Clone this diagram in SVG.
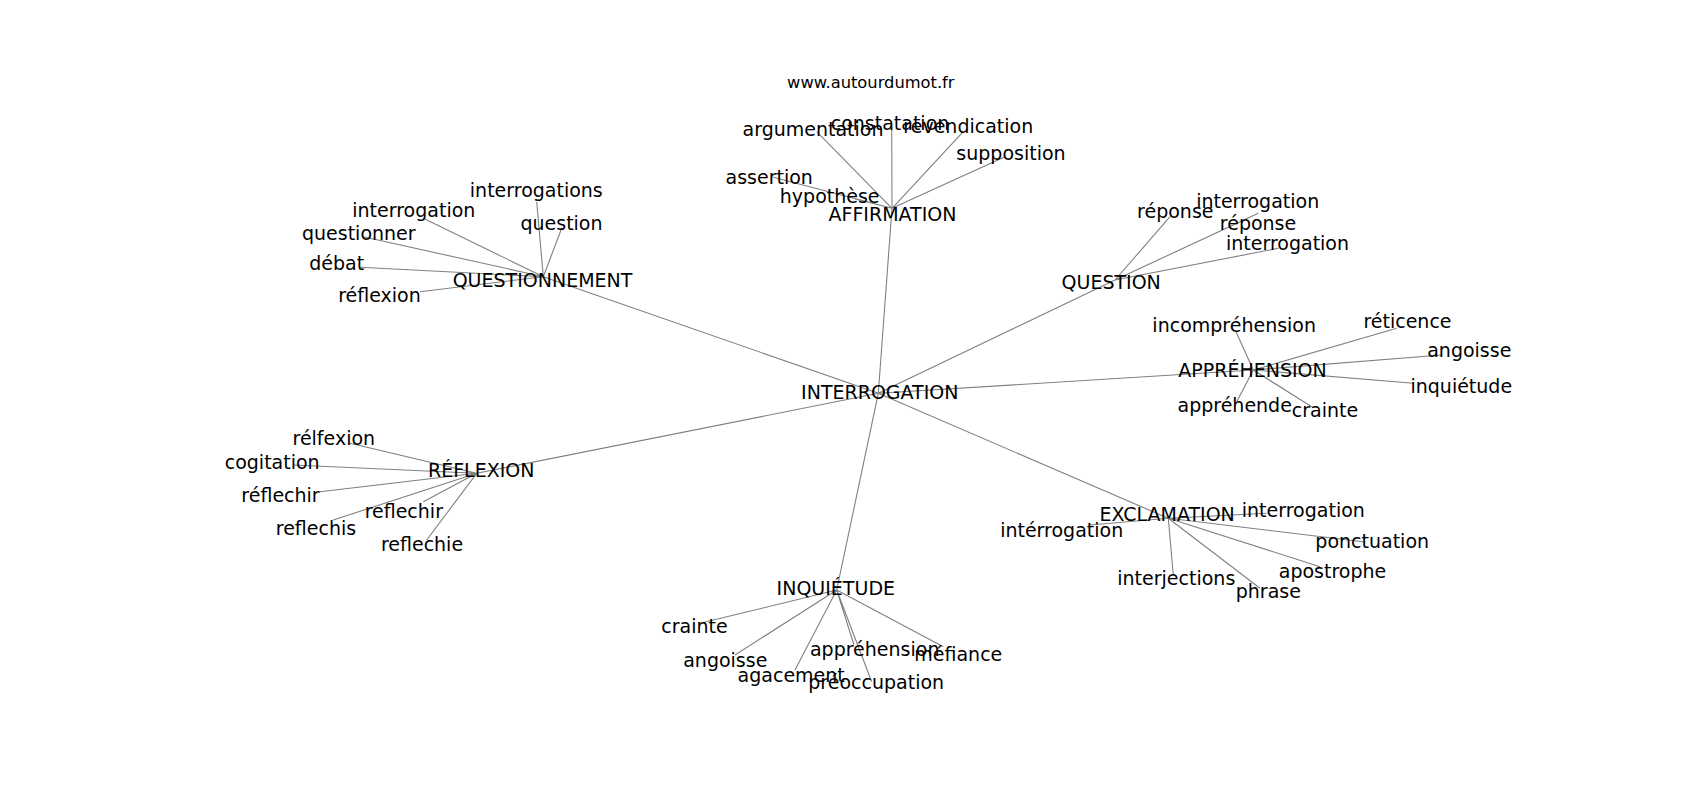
<svg xmlns="http://www.w3.org/2000/svg" width="1700" height="800" viewBox="0 0 1700 800">
<style>
.e{stroke:#808080;stroke-width:1.1;fill:none}
text{font-family:"DejaVu Sans","Liberation Sans",sans-serif;font-size:19px;fill:#000;text-anchor:middle}
.t{font-size:16.3px}
</style>
<rect width="1700" height="800" fill="#fff"/>
<g id="edges">
<path class="e" d="M878.3,393.3L892,208.3M878.3,393.3L543.3,276.7M878.3,393.3L1115,280M878.3,393.3L1253.3,370M878.3,393.3L1168.3,518.3M878.3,393.3L836.7,590M878.3,393.3L476.7,473.3"/>
<path class="e" d="M892,208.3L816.7,131.7M892,208.3L891.7,123.3M892,208.3L963.3,131.7M892,208.3L1005,156.7M892,208.3L773.3,177.3M892,208.3L855,199"/>
<path class="e" d="M543.3,276.7L536.7,201.7M543.3,276.7L561.7,228.3M543.3,276.7L423.3,218.3M543.3,276.7L363.3,236.7M543.3,276.7L360,267.3M543.3,276.7L420,291.7"/>
<path class="e" d="M1115,280L1170,216.7M1115,280L1258.3,213.3M1115,280L1230,226.5M1115,280L1278.3,248.3"/>
<path class="e" d="M1253.3,370L1236,331.7M1253.3,370L1396.7,328.3M1253.3,370L1441.7,355M1253.3,370L1413.3,383.3M1253.3,370L1236.7,401.7M1253.3,370L1311.7,406.7"/>
<path class="e" d="M1168.3,518.3L1266.7,513.3M1168.3,518.3L1090,525M1168.3,518.3L1365,542M1168.3,518.3L1320,566.7M1168.3,518.3L1173.3,575M1168.3,518.3L1260,588.3"/>
<path class="e" d="M476.7,473.3L350,443.3M476.7,473.3L293.3,465M476.7,473.3L320,491.7M476.7,473.3L333.3,520M476.7,473.3L423.3,501.7M476.7,473.3L426.7,540"/>
<path class="e" d="M836.7,590L700,623.3M836.7,590L735,655M836.7,590L795,670M836.7,590L854,645M836.7,590L871.7,681.7M836.7,590L943.3,646.7"/>
</g>
<text class="t" x="870.8" y="88.3">www.autourdumot.fr</text>
<g id="n-interrogation-hub"><text x="879.8" y="399.3">INTERROGATION</text></g>
<g id="n-affirmation"><text x="892.5" y="220.7">AFFIRMATION</text></g>
<g id="n-aff-argumentation"><text x="813" y="136">argumentation</text></g>
<g id="n-aff-constatation"><text x="890" y="130">constatation</text></g>
<g id="n-aff-revendication"><text x="968.3" y="132.7">revendication</text></g>
<g id="n-aff-supposition"><text x="1011" y="160">supposition</text></g>
<g id="n-aff-assertion"><text x="769.2" y="184">assertion</text></g>
<g id="n-aff-hypothese"><text x="829.7" y="202.7">hypothèse</text></g>
<g id="n-questionnement"><text x="542.5" y="286.5">QUESTIONNEMENT</text></g>
<g id="n-qnt-interrogations"><text x="536.3" y="197.3">interrogations</text></g>
<g id="n-qnt-interrogation"><text x="413.8" y="216.7">interrogation</text></g>
<g id="n-qnt-question"><text x="561.5" y="230">question</text></g>
<g id="n-qnt-questionner"><text x="358.8" y="240">questionner</text></g>
<g id="n-qnt-debat"><text x="336.7" y="270">débat</text></g>
<g id="n-qnt-reflexion"><text x="379.5" y="301.7">réflexion</text></g>
<g id="n-question"><text x="1111.2" y="288.5">QUESTION</text></g>
<g id="n-qst-reponse1"><text x="1175.3" y="218.3">réponse</text></g>
<g id="n-qst-interrogation1"><text x="1257.7" y="207.7">interrogation</text></g>
<g id="n-qst-reponse2"><text x="1258" y="230">réponse</text></g>
<g id="n-qst-interrogation2"><text x="1287.5" y="250">interrogation</text></g>
<g id="n-apprehension"><text x="1252.5" y="376.7">APPRÉHENSION</text></g>
<g id="n-app-incomprehension"><text x="1234.2" y="331.7">incompréhension</text></g>
<g id="n-app-reticence"><text x="1407.5" y="328.3">réticence</text></g>
<g id="n-app-angoisse"><text x="1469.3" y="356.7">angoisse</text></g>
<g id="n-app-inquietude"><text x="1461.3" y="393.3">inquiétude</text></g>
<g id="n-app-apprehende"><text x="1234.7" y="411.7">appréhende</text></g>
<g id="n-app-crainte"><text x="1325" y="416.7">crainte</text></g>
<g id="n-exclamation"><text x="1167.2" y="520.7">EXCLAMATION</text></g>
<g id="n-exc-interrogation"><text x="1303.3" y="516.7">interrogation</text></g>
<g id="n-exc-interrogation2"><text x="1061.7" y="536.7">intérrogation</text></g>
<g id="n-exc-ponctuation"><text x="1372.2" y="548.3">ponctuation</text></g>
<g id="n-exc-apostrophe"><text x="1332.5" y="578.3">apostrophe</text></g>
<g id="n-exc-interjections"><text x="1176.3" y="585">interjections</text></g>
<g id="n-exc-phrase"><text x="1268.3" y="598.3">phrase</text></g>
<g id="n-reflexion"><text x="481.2" y="477.3">RÉFLEXION</text></g>
<g id="n-ref-relfexion"><text x="333.8" y="445">rélfexion</text></g>
<g id="n-ref-cogitation"><text x="272.2" y="469.3">cogitation</text></g>
<g id="n-ref-reflechir1"><text x="280.5" y="501.7">réflechir</text></g>
<g id="n-ref-reflechir2"><text x="403.8" y="518.3">reflechir</text></g>
<g id="n-ref-reflechis"><text x="316" y="535">reflechis</text></g>
<g id="n-ref-reflechie"><text x="422" y="550.7">reflechie</text></g>
<g id="n-inquietude"><text x="835.8" y="595">INQUIÉTUDE</text></g>
<g id="n-inq-crainte"><text x="694.5" y="633.3">crainte</text></g>
<g id="n-inq-angoisse"><text x="725.3" y="666.7">angoisse</text></g>
<g id="n-inq-agacement"><text x="791.2" y="681.7">agacement</text></g>
<g id="n-inq-apprehension"><text x="874.7" y="656">appréhension</text></g>
<g id="n-inq-mefiance"><text x="958.3" y="660.7">méfiance</text></g>
<g id="n-inq-preoccupation"><text x="876.2" y="689.3">préoccupation</text></g>
</svg>
